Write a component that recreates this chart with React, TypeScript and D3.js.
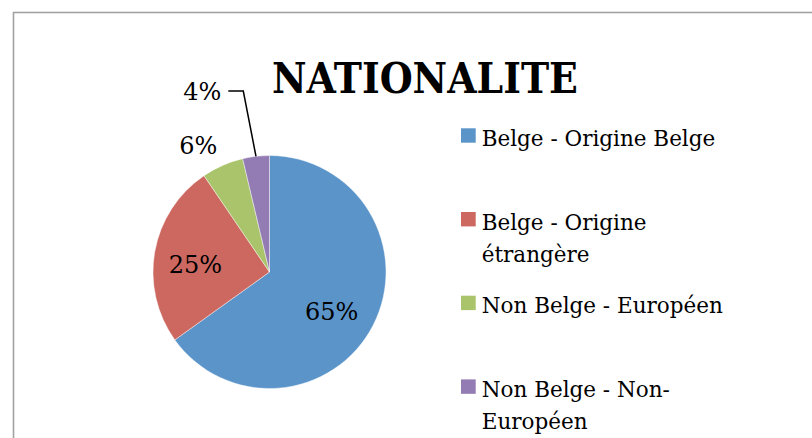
import React from "react";
import * as d3 from "d3";

const title = "NATIONALITE";
const categories = [
  ["Belge - Origine Belge"],
  ["Belge - Origine", "étrangère"],
  ["Non Belge - Européen"],
  ["Non Belge - Non-", "Européen"],
];
const values = [65.1, 25.4, 5.8, 3.7];
const colors = ["#5b94c9", "#cc6860", "#a9c46b", "#937bb3"];

// label placement: radius factor and angular nudge (degrees)
const labelPlacement = [
  { r: 0.63, da: 5, leader: false },
  { r: 0.64, da: -4, leader: false },
  { r: 1.25, da: -5.5, leader: false },
  { r: 1.72, da: 0, leader: true },
];

const W = 812;
const H = 438;
const cx = 269.5;
const cy = 272;
const R = 116.5;
const FONT = "'DejaVu Serif', serif";

export default function App() {
  const total = d3.sum(values);
  const pie = d3
    .pie<number>()
    .sort(null)
    .startAngle(0)
    .endAngle(2 * Math.PI)
    .value((d) => d);
  const arcs = pie(values);
  const arcGen = d3.arc<d3.PieArcDatum<number>>().innerRadius(0).outerRadius(R);
  const fmt = (v: number) => `${Math.round((v / total) * 100)}%`;

  const polar = (angle: number, r: number): [number, number] => [
    Math.sin(angle) * r,
    -Math.cos(angle) * r,
  ];

  const legendY = d3.scaleLinear().domain([0, 1]).range([146, 229.7]);

  return (
    <svg
      width={W}
      height={H}
      style={{ position: "absolute", left: 0, top: 0, display: "block", background: "#fff", fontFamily: FONT }}
    >
      <rect x={13.5} y={12.5} width={900} height={600} fill="#fff" stroke="#a2a2a2" strokeWidth={1.6} />
      <text
        x={424.9}
        y={93.3}
        textAnchor="middle"
        fontSize={42}
        fontWeight="bold"
        textLength={306}
        lengthAdjust="spacingAndGlyphs"
        fill="#000"
      >
        {title}
      </text>
      <g transform={`translate(${cx},${cy})`}>
        {arcs.map((a, i) => (
          <path key={i} d={arcGen(a) || ""} fill={colors[i]} stroke="#ffffff" strokeOpacity={0.55} strokeWidth={0.8} />
        ))}
        {arcs.map((a, i) => {
          const p = labelPlacement[i];
          const mid = (a.startAngle + a.endAngle) / 2;
          if (p.leader) {
            const [ex, ey] = polar(mid, R);
            const lx = ex - 12.7;
            const ly = -181;
            const tx = lx - 15;
            return (
              <g key={i}>
                <polyline
                  points={`${ex},${ey} ${lx},${ly} ${tx},${ly}`}
                  fill="none"
                  stroke="#000"
                  strokeWidth={1.5}
                />
                <text x={tx - 7} y={ly + 9} textAnchor="end" fontSize={24} fill="#000">
                  {fmt(values[i])}
                </text>
              </g>
            );
          }
          const ang = mid + (p.da * Math.PI) / 180;
          const [x, y] = polar(ang, R * p.r);
          return (
            <text key={i} x={x} y={y + 9} textAnchor="middle" fontSize={24} fill="#000">
              {fmt(values[i])}
            </text>
          );
        })}
      </g>
      <g>
        {categories.map((lines, i) => {
          const by = legendY(i);
          return (
            <g key={i}>
              <rect x={461} y={by - 17.7} width={14.7} height={14.4} fill={colors[i]} />
              {lines.map((t, j) => (
                <text key={j} x={481.7} y={by + j * 32} fontSize={21.5} fill="#000">
                  {t}
                </text>
              ))}
            </g>
          );
        })}
      </g>
    </svg>
  );
}
